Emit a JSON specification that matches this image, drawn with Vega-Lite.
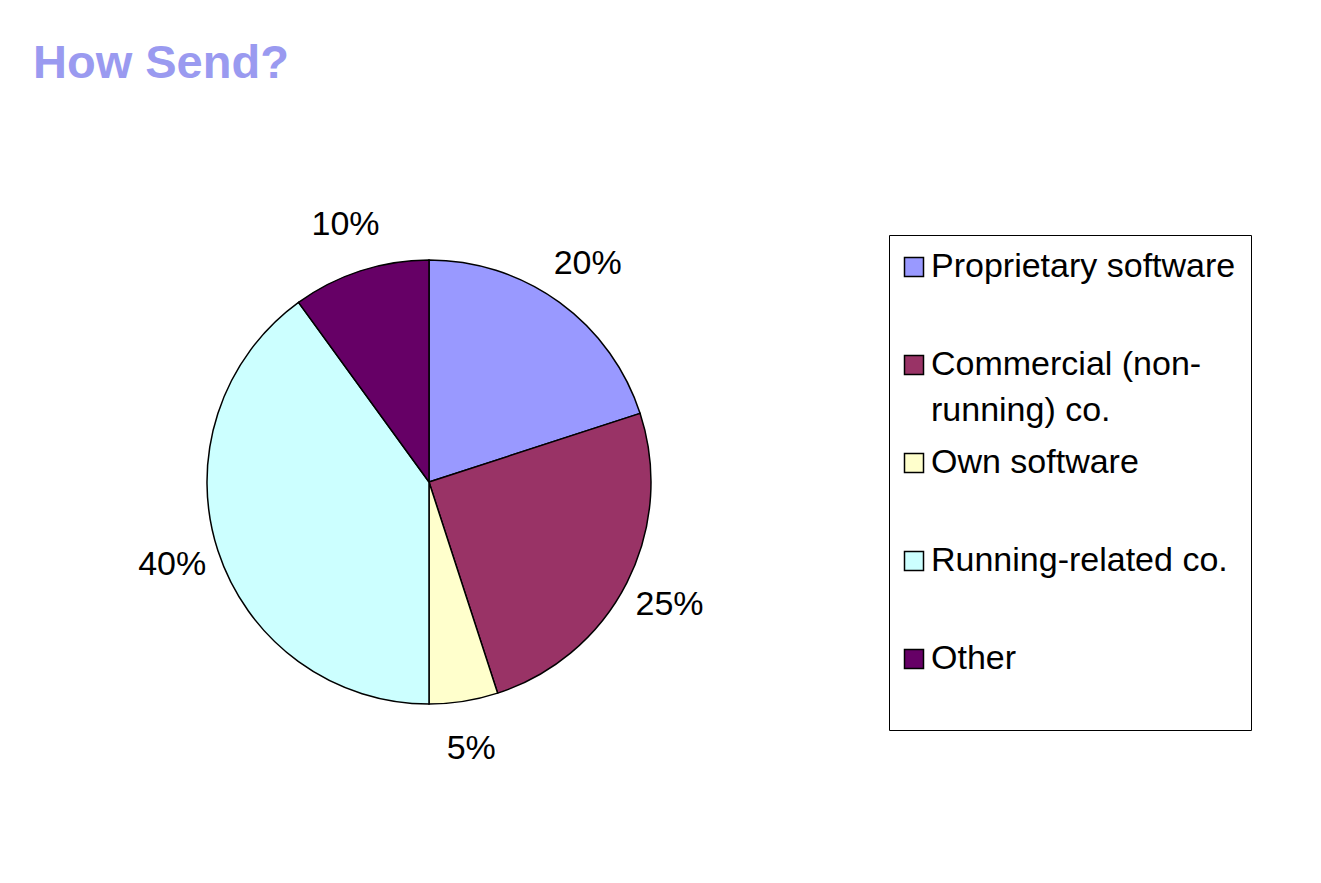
{
  "$schema": "https://vega.github.io/schema/vega-lite/v6.json",
  "width": 792,
  "height": 704,
  "autosize": {"type": "none"},
  "padding": {"left": 33, "top": 130, "right": 496, "bottom": 49},
  "background": "white",
  "title": {
    "text": "How Send?",
    "anchor": "start",
    "font": "Liberation Sans",
    "fontSize": 47,
    "fontWeight": "bold",
    "color": "#9a9af0",
    "offset": 5,
    "baseline": "alphabetic"
  },
  "data": {
    "values": [
      {"category": "Proprietary software", "value": 20, "idx": 1, "label": "20%"},
      {"category": "Commercial (non-running) co.", "value": 25, "idx": 2, "label": "25%"},
      {"category": "Own software", "value": 5, "idx": 3, "label": "5%"},
      {"category": "Running-related co.", "value": 40, "idx": 4, "label": "40%"},
      {"category": "Other", "value": 10, "idx": 5, "label": "10%"}
    ]
  },
  "encoding": {
    "theta": {"field": "value", "type": "quantitative", "stack": true},
    "order": {"field": "idx", "type": "quantitative"}
  },
  "layer": [
    {
      "mark": {"type": "arc", "outerRadius": 222, "stroke": "black", "strokeWidth": 1.5},
      "encoding": {
        "color": {
          "field": "category",
          "type": "nominal",
          "scale": {
            "domain": ["Proprietary software", "Commercial (non-running) co.", "Own software", "Running-related co.", "Other"],
            "range": ["#9999FF", "#993366", "#FFFFCC", "#CCFFFF", "#660066"]
          },
          "legend": {
            "title": " ",
            "titleOrient": "bottom",
            "titleFontSize": 30,
            "titlePadding": 9,
            "orient": "none",
            "legendX": 856,
            "legendY": 105,
            "strokeColor": "black",
            "fillColor": "white",
            "padding": 15,
            "gridAlign": "all",
            "symbolType": "square",
            "symbolSize": 361,
            "symbolOffset": -7,
            "symbolStrokeColor": "black",
            "symbolStrokeWidth": 1.5,
            "labelFont": "Liberation Sans",
            "labelFontSize": 34,
            "labelColor": "black",
            "labelOffset": 0,
            "labelLimit": 500,
            "rowPadding": 18,
            "labelExpr": "datum.label == 'Commercial (non-running) co.' ? ['Commercial (non-', 'running) co.'] : datum.label",
            "encode": {
              "labels": {
                "update": {
                  "lineHeight": {"value": 46}
                }
              }
            }
          }
        }
      }
    },
    {
      "mark": {"type": "text", "radius": 270, "font": "Liberation Sans", "fontSize": 34, "color": "black"},
      "encoding": {"text": {"field": "label"}}
    }
  ],
  "config": {"view": {"stroke": null}}
}
